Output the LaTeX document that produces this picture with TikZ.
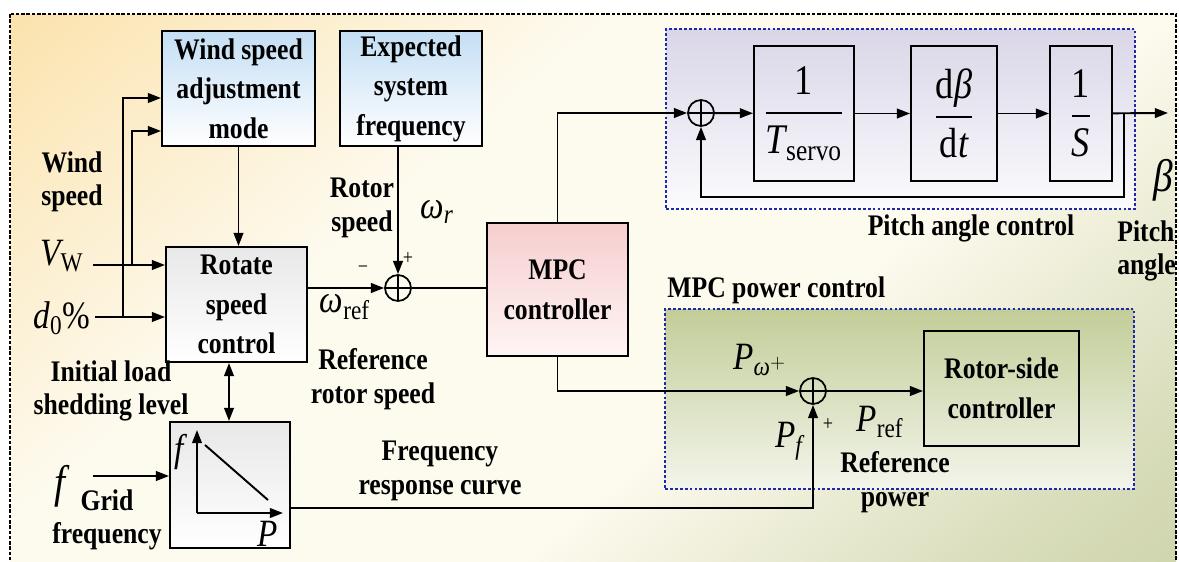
\documentclass[tikz,border=0pt]{standalone}
\usepackage{amsmath}
\usepackage{fontspec}
\setmainfont{Liberation Serif}[FakeStretch=0.86]
\usetikzlibrary{arrows.meta}
\definecolor{bgorange}{RGB}{250,210,128}
\definecolor{bgcream}{RGB}{253,250,238}
\definecolor{bggreen}{RGB}{188,198,146}
\definecolor{boxblue}{RGB}{196,222,244}
\definecolor{boxpink}{RGB}{246,206,206}
\definecolor{pitchfill}{RGB}{218,214,232}
\definecolor{powerfill}{RGB}{194,205,152}
\definecolor{dotblue}{RGB}{30,40,170}
\pgfdeclareverticalshading{bgshade}{100bp}{color(0bp)=(bggreen); color(22bp)=(bggreen!55!bgcream);
  color(40bp)=(bgcream); color(62bp)=(bgcream); color(80bp)=(bgorange!45!bgcream); color(100bp)=(bgorange)}
\newcommand{\iv}[1]{\textit{#1}}
\begin{document}
\begin{tikzpicture}[x=0.02cm,y=-0.02cm,
    font=\fontsize{17}{19}\selectfont\bfseries,
    block/.style={draw,line width=1.1pt,align=center,inner sep=0pt,
      font=\fontsize{17}{22.5}\selectfont\bfseries},
    sumnode/.style={draw,circle,line width=1pt,minimum size=0.52cm,inner sep=0pt,
      path picture={\draw[line width=0.9pt]
        (path picture bounding box.north) -- (path picture bounding box.south)
        (path picture bounding box.west) -- (path picture bounding box.east);}},
    zone/.style={draw=dotblue,line width=1.3pt,dash pattern=on 1.6pt off 1.2pt,
      minimum width=9.38cm,minimum height=3.6cm,inner sep=0pt},
    lbl/.style={align=center,inner sep=0pt},
    var/.style={inner sep=0pt,font=\fontsize{22}{24}\selectfont},
    frac/.style={font=\fontsize{24}{24}\selectfont},
    sgn/.style={inner sep=0pt,font=\fontsize{12}{12}\selectfont},
    arr/.style={line width=1.1pt,-{Triangle[length=7.5pt,width=5.5pt]}},
    wire/.style={line width=1.1pt}]
  \useasboundingbox (0,0) rectangle (1179,561);
  \clip (0,0) rectangle (1179,561);
  % background
  \shade[shading=bgshade,shading angle=40] (10,14) rectangle (1176,561);
  \draw[line width=1pt,dash pattern=on 2pt off 1pt] (10,14) rectangle (1176,600);

  % dotted control zones
  \node[zone,top color=pitchfill,bottom color=white!90!pitchfill] (pitchzone) at (900.5,119) {};
  \node[zone,top color=powerfill,bottom color=white!80!powerfill] (powerzone) at (899.5,399) {};

  % blocks
  \node[block,top color=boxblue,bottom color=white,minimum width=3.06cm,minimum height=2.3cm]
    (windmode) at (238.5,88.5) {Wind speed\\adjustment\\mode};
  \node[block,top color=boxblue,bottom color=white,minimum width=2.84cm,minimum height=2.3cm]
    (expect) at (411,88.5) {Expected\\system\\frequency};
  \node[block,top color=gray!18,bottom color=white,minimum width=2.82cm,minimum height=2.3cm]
    (rotate) at (236.5,304.5) {Rotate\\speed\\control};
  \node[block,top color=gray!18,bottom color=white,minimum width=2.4cm,minimum height=2.52cm]
    (curvebox) at (230,485) {};
  \node[block,top color=boxpink,bottom color=red!4,minimum width=2.82cm,minimum height=2.66cm]
    (mpc) at (557.5,289.5) {MPC\\controller};
  \node[block,frac,minimum width=2cm,minimum height=2.7cm] (servo) at (804,113.5)
    {$\dfrac{\textrm{1}}{\iv{T}_{\textrm{servo}}}$};
  \node[block,frac,minimum width=1.72cm,minimum height=2.7cm] (deriv) at (954,113.5)
    {$\dfrac{\textrm{d}\iv{β}}{\textrm{d}\iv{t}}$};
  \node[block,frac,minimum width=1.24cm,minimum height=2.7cm] (integ) at (1081,113.5)
    {$\dfrac{\textrm{1}}{\iv{S}}$};
  \node[block,minimum width=3.1cm,minimum height=2.3cm] (rsc) at (1001.5,388.5)
    {Rotor-side\\controller};

  % summing points
  \node[sumnode] (sumA) at (398,288) {};
  \node[sumnode] (sumB) at (701,113) {};
  \node[sumnode] (sumC) at (813,391) {};

  % f-P curve inside its block
  \draw[arr] (197,513) -- (197,430);
  \draw[arr] (197,513) -- (283,513);
  \draw[wire] (205,445) -- (268,500);
  \node[var] (fax) at (181,452) {\iv{f}};
  \node[var] (pax) at (268,534) {\iv{P}};

  % inputs
  \coordinate (vwin) at (93,265);
  \coordinate (d0in) at (95,317);
  \coordinate (fin) at (93,476);
  \coordinate (brA) at (123,317);
  \coordinate (brB) at (132,265);
  \draw[arr] (vwin) -- (vwin -| rotate.west);
  \draw[arr] (d0in) -- (d0in -| rotate.west);
  \draw[arr] (brA) |- (windmode.west |- 0,98);
  \draw[arr] (brB) |- (windmode.west |- 0,131);
  \draw[arr] (fin) -- (fin -| curvebox.west);

  % connections
  \draw[arr] (windmode.south) -- (windmode.south |- rotate.north);
  \draw[arr] (expect.south -| sumA) -- (sumA);
  \draw[arr] (rotate.east |- sumA) -- (sumA);
  \draw[wire] (sumA) -- (sumA -| mpc.west);
  \draw[line width=1.1pt,{Triangle[length=7.5pt,width=5.5pt]}-{Triangle[length=7.5pt,width=5.5pt]}]
    (rotate.south -| 229,0) -- (curvebox.north -| 229,0);
  \draw[arr] (mpc.north) |- (sumB);
  \draw[arr] (mpc.south) |- (sumC);
  \draw[arr] (curvebox.east |- 0,508) -| (sumC);
  \draw[arr] (sumC) -- (sumC -| rsc.west);
  \draw[arr] (sumB) -- (servo);
  \draw[arr] (servo) -- (deriv);
  \draw[arr] (deriv) -- (integ);
  \coordinate (fbtap) at (1124,113);
  \coordinate (betaout) at (1168,113);
  \draw[arr] (integ) -- (betaout);
  \draw[arr] (fbtap) -- ++(0,84) -| (sumB);

  % labels
  \node[lbl] (windlbl) at (72,182) {Wind\\speed};
  \node[var] (vw) at (62,256) {$\iv{V}_{\textrm{W}}$};
  \node[var] (d0) at (62,318) {$\iv{d}_{\textrm{0}}$\%};
  \node[lbl] (loadlbl) at (111,391) {Initial load\\shedding level};
  \node[var,font=\fontsize{26}{26}\selectfont] (flbl) at (62,486) {\iv{f}};
  \node[lbl] (gridlbl) at (107,520) {Grid\\frequency};
  \node[lbl] (rotorlbl) at (362,208) {Rotor\\speed};
  \node[var] (wr) at (437,212) {$\iv{ω}_{\iv{r}}$};
  \node[sgn] (plusA) at (408,259) {+};
  \node[sgn] (minusA) at (363,270) {\textminus};
  \node[var] (wref) at (345,307) {$\iv{ω}_{\textrm{ref}}$};
  \node[lbl] (reflbl) at (373,379) {Reference\\rotor speed};
  \node[lbl] (curvelbl) at (440,471) {Frequency\\response curve};
  \node[lbl,anchor=west] (powerlbl) at (667,290) {MPC power control};
  \node[lbl] (pitchlbl) at (971,228) {Pitch angle control};
  \node[lbl,align=left,anchor=west] (anglelbl) at (1117,251) {Pitch\\angle};
  \node[var,font=\fontsize{26}{26}\selectfont] (betalbl) at (1163,180) {\iv{β}};
  \node[var] (pw) at (760,360) {$\iv{P}_{\iv{ω}^{+}}$};
  \node[var] (pf) at (789,441) {$\iv{P}_{\iv{f}}$};
  \node[sgn] (plusC) at (828,425) {+};
  \node[var] (pref) at (880,422) {$\iv{P}_{\textrm{ref}}$};
  \node[lbl] (refpow) at (895,482) {Reference\\power};
\end{tikzpicture}
\end{document}
